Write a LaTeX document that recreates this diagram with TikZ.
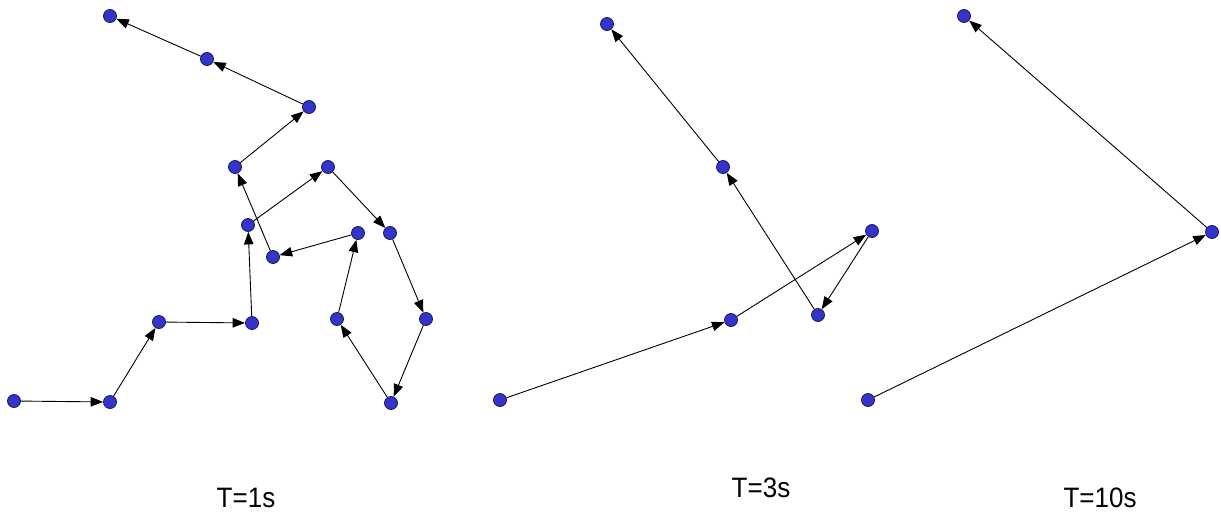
\documentclass[tikz,border=0pt]{standalone}
\usepackage{fontspec}
\setmainfont{Liberation Sans}
\usetikzlibrary{arrows.meta}

\definecolor{dotblue}{RGB}{52,52,200}
\definecolor{dotedge}{RGB}{24,24,100}

\tikzset{
  dot/.style={circle, fill=dotblue, draw=dotedge, line width=0.8pt, minimum size=13pt, inner sep=0pt},
  arr/.style={-{Triangle[length=12.5pt,width=9.5pt]}, line width=0.9pt},
  timelabel/.style={font=\fontsize{26}{30}\selectfont, inner sep=0pt, yscale=1.08}
}

\begin{document}
\begin{tikzpicture}[x=1pt,y=-1pt]
\useasboundingbox (0,0) rectangle (1221,520);

% T=1s
\node[dot] (a1) at (110,16) {};
\node[dot] (a2) at (207,59) {};
\node[dot] (a3) at (309,107) {};
\node[dot] (a4) at (235,167) {};
\node[dot] (a5) at (328,167) {};
\node[dot] (a6) at (248,225) {};
\node[dot] (a7) at (273,257) {};
\node[dot] (a8) at (358,233) {};
\node[dot] (a9) at (390,233) {};
\node[dot] (a10) at (337,319) {};
\node[dot] (a11) at (426,319) {};
\node[dot] (a12) at (159,322) {};
\node[dot] (a13) at (252,323) {};
\node[dot] (a14) at (14,401) {};
\node[dot] (a15) at (110,402) {};
\node[dot] (a16) at (391,403) {};
\foreach \u/\v in {a14/a15, a15/a12, a12/a13, a13/a6, a6/a5, a5/a9, a9/a11, a11/a16,
                   a16/a10, a10/a8, a8/a7, a7/a4, a4/a3, a3/a2, a2/a1}
  \draw[arr] (\u) -- (\v);
\node[timelabel] (t1) at (246,498) {T=1s};

% T=3s
\node[dot] (b1) at (607,24) {};
\node[dot] (b2) at (723,167) {};
\node[dot] (b3) at (872,231) {};
\node[dot] (b4) at (731,320) {};
\node[dot] (b5) at (818,315) {};
\node[dot] (b6) at (500,400) {};
\foreach \u/\v in {b6/b4, b4/b3, b3/b5, b5/b2, b2/b1}
  \draw[arr] (\u) -- (\v);
\node[timelabel] (t3) at (761,488) {T=3s};

% T=10s
\node[dot] (c1) at (964,16) {};
\node[dot] (c2) at (1212,232) {};
\node[dot] (c3) at (868,400) {};
\draw[arr] (c3) -- (c2);
\draw[arr] (c2) -- (c1);
\node[timelabel] (t10) at (1100,498) {T=10s};
\end{tikzpicture}
\end{document}
